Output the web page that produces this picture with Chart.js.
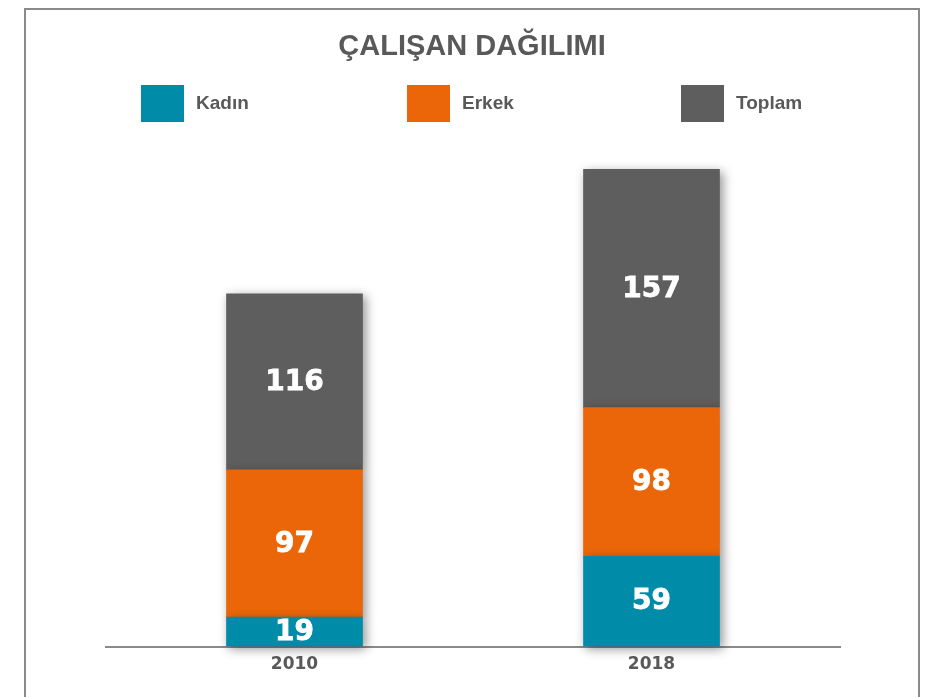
<!DOCTYPE html>
<html>
<head>
<meta charset="utf-8">
<script src="https://cdn.jsdelivr.net/npm/chart.js@4/dist/chart.umd.min.js"></script>
<style>
  html, body { margin: 0; padding: 0; background: #ffffff; }
  #wrap { position: relative; width: 944px; height: 697px; overflow: hidden; }
  #frame { position: absolute; left: 24px; top: 8px; width: 896px; height: 720px; border: 2px solid #8a8a8a; box-sizing: border-box; }
  canvas { position: absolute; left: 0; top: 0; }
</style>
</head>
<body>
<div id="wrap">
  <div id="frame"></div>
  <canvas id="c" width="944" height="697"></canvas>
</div>
<script>
const chartTitle = "ÇALIŞAN DAĞILIMI";
const categories = ["2010", "2018"];
const seriesNames = ["Kadın", "Erkek", "Toplam"];
const kadin = [19, 59];
const erkek = [97, 98];
const toplam = [116, 157];
const seriesColors = ["#008CA8", "#EB6608", "#5E5E5E"];

const FONT = "'Liberation Sans', Arial, sans-serif";
const NUMFONT = "'DejaVu Sans', sans-serif";
const TEXT = "#595959";

const decor = {
  id: "decor",
  beforeDatasetsDraw(chart) {
    const ctx = chart.ctx;
    const a = chart.chartArea;
    ctx.save();
    ctx.strokeStyle = "#8a8a8a";
    ctx.lineWidth = 2;
    ctx.beginPath();
    ctx.moveTo(105, a.bottom + 1);
    ctx.lineTo(841, a.bottom + 1);
    ctx.stroke();
    ctx.restore();
    ctx.save();
    ctx.shadowColor = "rgba(0,0,0,0.42)";
    ctx.shadowBlur = 10;
    ctx.shadowOffsetX = 3;
    ctx.shadowOffsetY = 3;
  },
  afterDatasetsDraw(chart) {
    const ctx = chart.ctx;
    ctx.restore();
    ctx.save();
    ctx.fillStyle = "#ffffff";
    ctx.strokeStyle = "#ffffff";
    ctx.lineWidth = 0.8;
    ctx.font = "bold 28px " + NUMFONT;
    ctx.textAlign = "center";
    ctx.textBaseline = "middle";
    chart.data.datasets.forEach((ds, di) => {
      const meta = chart.getDatasetMeta(di);
      meta.data.forEach((el, i) => {
        const y = (el.y + el.base) / 2;
        ctx.fillText(String(ds.data[i]), el.x, y + 1);
        ctx.strokeText(String(ds.data[i]), el.x, y + 1);
      });
    });
    ctx.restore();
  },
  afterDraw(chart) {
    const ctx = chart.ctx;
    ctx.save();
    ctx.fillStyle = TEXT;
    ctx.font = "bold 29px " + FONT;
    ctx.textAlign = "center";
    ctx.textBaseline = "middle";
    ctx.fillText(chartTitle, 472, 47);
    const boxX = [141, 407, 681];
    ctx.font = "bold 19px " + FONT;
    ctx.textAlign = "left";
    chart.data.datasets.forEach((ds, i) => {
      ctx.fillStyle = ds.backgroundColor;
      ctx.fillRect(boxX[i], 85, 43, 37);
      ctx.fillStyle = TEXT;
      ctx.fillText(ds.label, boxX[i] + 55, 104);
    });
    ctx.restore();
  }
};

new Chart(document.getElementById("c"), {
  type: "bar",
  data: {
    labels: categories,
    datasets: [
      { label: seriesNames[0], data: kadin, backgroundColor: seriesColors[0], clip: false },
      { label: seriesNames[1], data: erkek, backgroundColor: seriesColors[1], clip: false },
      { label: seriesNames[2], data: toplam, backgroundColor: seriesColors[2], clip: false }
    ]
  },
  options: {
    responsive: false,
    animation: false,
    devicePixelRatio: 1,
    layout: { padding: { left: 116, right: 114, top: 145, bottom: 21 } },
    datasets: { bar: { barThickness: 136, borderWidth: 0 } },
    plugins: {
      legend: { display: false },
      title: { display: false },
      tooltip: { enabled: false }
    },
    scales: {
      x: {
        stacked: true,
        grid: { display: false, drawTicks: false },
        border: { display: false },
        ticks: { color: TEXT, font: { family: NUMFONT, size: 17, weight: "bold" }, padding: 8 },
        afterFit(scale) { scale.height = 30; }
      },
      y: {
        stacked: true,
        display: false,
        min: 0,
        max: 330
      }
    }
  },
  plugins: [decor]
});
</script>
</body>
</html>
